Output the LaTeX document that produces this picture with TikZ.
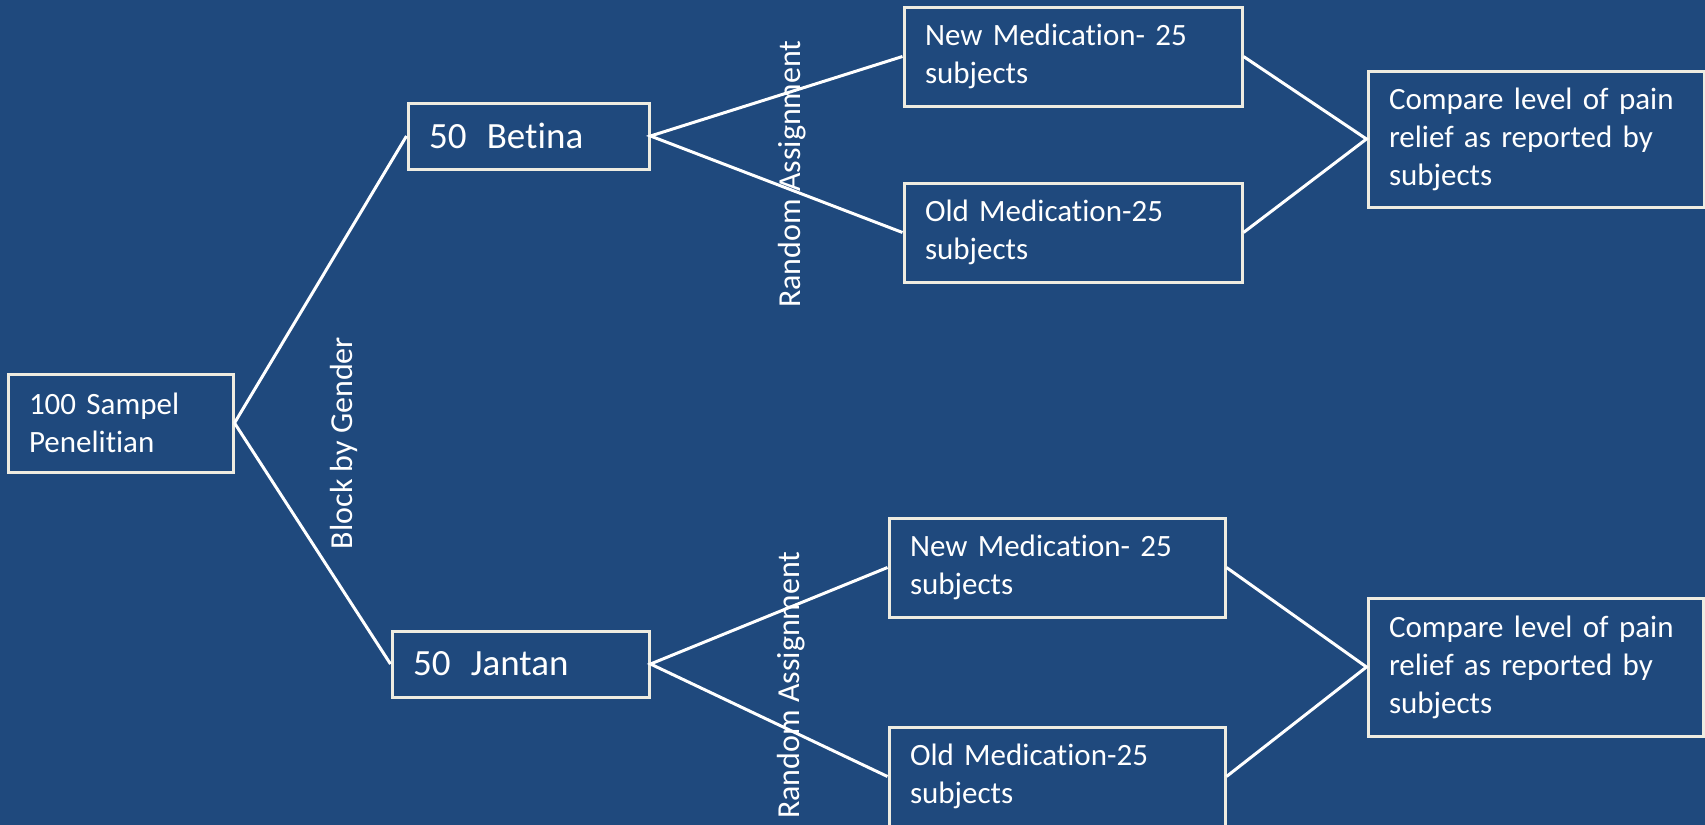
\documentclass[tikz,border=0pt]{standalone}
\usepackage{fontspec}
\usepackage{tikz}
\usetikzlibrary{positioning}
\setmainfont{Carlito}[Ligatures=NoCommon]
\definecolor{slideblue}{HTML}{1F497D}
\definecolor{boxline}{HTML}{EEECE1}

\begin{document}
\begin{tikzpicture}[x=0.5pt, y=-0.5pt,
    box/.style={draw=boxline, line width=1.5pt, inner xsep=10.5pt, inner ysep=0pt,
                align=left, text=white, font=\fontsize{15.5}{19}\selectfont},
    bigbox/.style={box, font=\fontsize{18.5}{22}\selectfont},
    lbl/.style={text=white, rotate=90, inner sep=0pt, font=\fontsize{16}{19}\selectfont},
    link/.style={draw=white, line width=1.5pt},
]
    \path[use as bounding box, fill=slideblue] (0,0) rectangle (1705,825);

    \node[box, text width=91.5pt, minimum height=49pt] (sampel) at (120.5,423) {100 Sampel\\Penelitian};

    \node[bigbox, text width=99.5pt, minimum height=33pt] (betina) at (528.5,136) {50\kern4pt\ Betina};
    \node[bigbox, text width=107.5pt, minimum height=33pt] (jantan) at (520.5,664) {50\kern4pt\ Jantan};

    \node[box, text width=148pt, minimum height=49.5pt] (newA) at (1073,56.5) {New Medication- 25\\subjects};
    \node[box, text width=148pt, minimum height=49.5pt] (oldA) at (1073,232.5) {Old Medication-25\\subjects};
    \node[box, text width=147pt, minimum height=49.5pt] (newB) at (1057,567.5) {New Medication- 25\\subjects};
    \node[box, text width=147pt, minimum height=49.5pt] (oldB) at (1057,776.5) {Old Medication-25\\subjects};

    \node[box, text width=147pt, minimum height=68pt] (cmpA) at (1536,139) {Compare level of pain\\relief as reported by\\subjects};
    \node[box, text width=146.5pt, minimum height=69pt] (cmpB) at (1535.5,667) {Compare level of pain\\relief as reported by\\subjects};

    \node[lbl] (gender) at (344,443) {Block by Gender};
    \node[lbl] (randA) at (792,174) {Random Assignment};
    \node[lbl] (randB) at (791,685) {Random Assignment};

    \draw[link] (sampel.east) -- (betina.west);
    \draw[link] (sampel.east) -- (jantan.west);
    \draw[link] (newA.west) -- (betina.east) -- (oldA.west);
    \draw[link] (newB.west) -- (jantan.east) -- (oldB.west);
    \draw[link] (newA.east) -- (cmpA.west) -- (oldA.east);
    \draw[link] (newB.east) -- (cmpB.west) -- (oldB.east);
\end{tikzpicture}
\end{document}
